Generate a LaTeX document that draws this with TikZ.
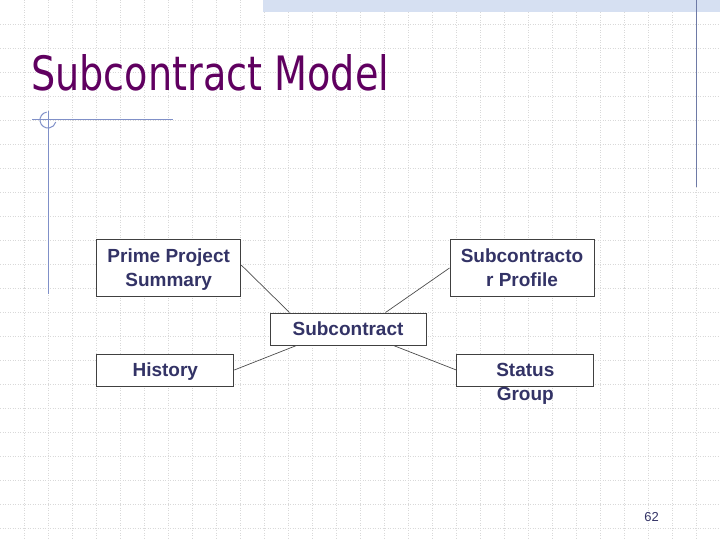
\documentclass[tikz,border=0pt]{standalone}
\usepackage{fontspec}
\usepackage{graphicx}
\setmainfont{Liberation Sans}
\newfontfamily\titlefont{DejaVu Sans}
\usepackage{tikz}
\usetikzlibrary{positioning,calc}

\definecolor{titlepurple}{RGB}{96,0,96}
\definecolor{navytext}{RGB}{51,51,102}
\definecolor{decoblue}{RGB}{128,144,200}
\definecolor{ruleblue}{RGB}{110,122,166}
\definecolor{bandblue}{RGB}{214,224,242}

\begin{document}
\begin{tikzpicture}[
  x=1bp, y=-1bp,
  gridline/.style={draw=gray!30, line width=0.8bp, dash pattern=on 1bp off 1.5bp},
  deco/.style={draw=decoblue, line width=1bp},
  box/.style={draw=black!75, fill=white, line width=1bp, inner sep=0pt,
              align=center, text=navytext, text depth=0pt,
              font=\fontsize{19bp}{24bp}\selectfont\bfseries},
  txt/.style={inner sep=0pt, align=center, text=navytext,
              font=\fontsize{19bp}{24bp}\selectfont\bfseries},
  line/.style={draw=black!70, line width=0.7bp}
]
\useasboundingbox (0,0) rectangle (720,540);

% Background grid
\foreach \i in {24,48,...,696}
  \draw[gridline] (\i,0) -- (\i,540);
\foreach \j in {24,48,...,528}
  \draw[gridline] (0,\j) -- (720,\j);

% Slide decoration
\fill[bandblue] (263,0) rectangle (720,12);
\draw[draw=ruleblue, line width=1.2bp] (696.5,0) -- (696.5,187);
\draw[deco] (32,120) -- (173,120);
\draw[deco] (48,111) -- (48,294);
\draw[deco] (48,120) ++(100:8bp) arc[start angle=100, end angle=345, radius=8bp];

% Title
\node[anchor=base west, inner sep=0pt, text=titlepurple] (title) at (31,91)
  {\resizebox{358bp}{36bp}{\titlefont Subcontract Model}};

% Boxes
\node[box, minimum width=144bp, minimum height=56bp] (prime) at (168.7,268) {Prime Project\\Summary};
\node[box, minimum width=144bp, minimum height=56bp] (profile) at (522,268) {Subcontracto\\r Profile};
\node[box, minimum width=156bp, minimum height=32bp] (subc) at (348,329) {Subcontract};
\node[box, minimum width=137bp, minimum height=32bp] (history) at (165.3,370) {History};
\node[box, minimum width=137bp, minimum height=32bp] (status) at (525.3,370) {};
\node[txt, anchor=north] (statuslbl) at ([yshift=-9.5bp]status.north) {Status\\Group};

% Connections
\draw[line] ([yshift=3bp]prime.east) -- ([xshift=20bp]subc.north west);
\draw[line] (profile.west) -- ([xshift=-41bp]subc.north east);
\draw[line] (history.east) -- ([xshift=27bp]subc.south west);
\draw[line] (status.west) -- ([xshift=-33bp]subc.south east);

% Page number
\node[inner sep=0pt, text=navytext, font=\fontsize{13bp}{15bp}\selectfont] (pageno) at (651.5,517) {62};

\end{tikzpicture}
\end{document}
